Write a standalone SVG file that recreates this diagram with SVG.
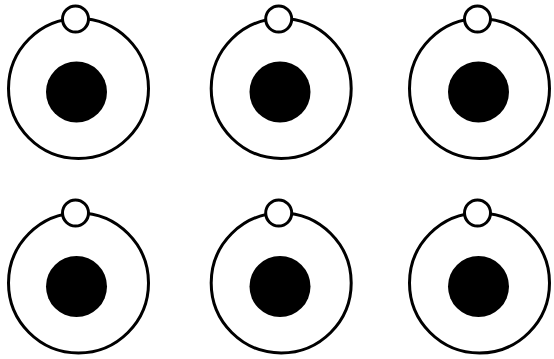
<svg xmlns="http://www.w3.org/2000/svg" width="554" height="359" viewBox="0 0 554 359">
<style>
.orbit{fill:#fff;stroke:#000;stroke-width:3}
.e{fill:#fff;stroke:#000;stroke-width:3}
.n{fill:#000}
</style>
<rect width="554" height="359" fill="#fff"/>
<g id="atom1"><circle class="orbit" cx="78.5" cy="88.5" r="70"/><circle class="n" cx="76.5" cy="92" r="30.5"/><circle class="e" cx="75.5" cy="19" r="13"/></g>
<g id="atom2"><circle class="orbit" cx="281.2" cy="88.5" r="70"/><circle class="n" cx="280" cy="92" r="30.5"/><circle class="e" cx="278.7" cy="19" r="13"/></g>
<g id="atom3"><circle class="orbit" cx="479.5" cy="88.5" r="70"/><circle class="n" cx="478.5" cy="92" r="30.5"/><circle class="e" cx="477.5" cy="19" r="13"/></g>
<g id="atom4"><circle class="orbit" cx="78.5" cy="283" r="70"/><circle class="n" cx="76.5" cy="286.5" r="30.5"/><circle class="e" cx="75.5" cy="213" r="13"/></g>
<g id="atom5"><circle class="orbit" cx="281.2" cy="283" r="70"/><circle class="n" cx="280" cy="286.5" r="30.5"/><circle class="e" cx="278.7" cy="213" r="13"/></g>
<g id="atom6"><circle class="orbit" cx="479.5" cy="283" r="70"/><circle class="n" cx="478.5" cy="286.5" r="30.5"/><circle class="e" cx="477.5" cy="213" r="13"/></g>
<g id="connectors"/>
</svg>
